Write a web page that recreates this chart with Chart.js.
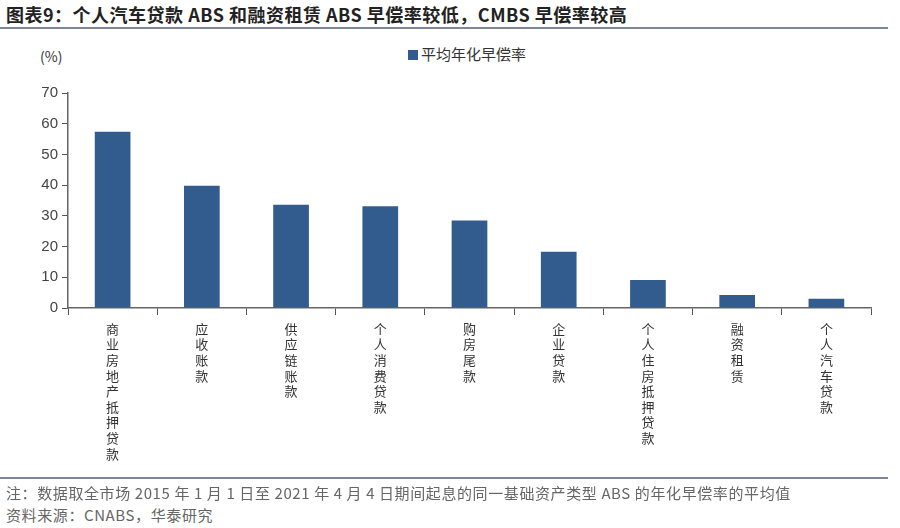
<!DOCTYPE html>
<html>
<head>
<meta charset="utf-8">
<script src="https://cdn.jsdelivr.net/npm/chart.js@4"></script>
<style>
  body { margin: 0; background: #fff; font-family: "Noto Sans CJK SC", sans-serif; }
  #wrap { position: relative; width: 900px; height: 528px; overflow: hidden; }
  .title { position: absolute; left: 6px; top: 1px; font-size: 18px; font-weight: bold; color: #222; letter-spacing: 0.5px; }
  .rule { position: absolute; left: 0; width: 888px; height: 2px; background: #7d8898; }
  .unit { position: absolute; left: 40px; top: 46px; font-size: 14px; color: #333; }
  .legend { position: absolute; left: 408px; top: 43px; font-size: 15px; color: #333; }
  .legend i { display: inline-block; width: 10px; height: 10px; background: #335c8e; margin-right: 3px; }
  .note { position: absolute; left: 6px; font-size: 15px; color: #666; letter-spacing: 0.6px; }
  canvas { position: absolute; left: 0; top: 30px; }
</style>
</head>
<body>
<div id="wrap">
  <div class="title">图表9：个人汽车贷款 ABS 和融资租赁 ABS 早偿率较低，CMBS 早偿率较高</div>
  <div class="rule" style="top:27px"></div>
  <div class="unit">(%)</div>
  <div class="legend"><i></i>平均年化早偿率</div>
  <canvas id="c" width="900" height="448"></canvas>
  <div class="rule" style="top:477px"></div>
  <div class="note" style="top:482px">注：数据取全市场 2015 年 1 月 1 日至 2021 年 4 月 4 日期间起息的同一基础资产类型 ABS 的年化早偿率的平均值</div>
  <div class="note" style="top:504px">资料来源：CNABS，华泰研究</div>
</div>
<script>
var categories = ["商业房地产抵押贷款", "应收账款", "供应链账款", "个人消费贷款", "购房尾款", "企业贷款", "个人住房抵押贷款", "融资租赁", "个人汽车贷款"];
var seriesName = "平均年化早偿率";
var values = [57.4, 39.8, 33.6, 33.1, 28.5, 18.3, 9.1, 4.2, 3.0];
var yTicks = [0, 10, 20, 30, 40, 50, 60, 70];

// vertical labels: one character per line
var labels = categories.map(function (s) { return s.split(""); });

var ctx = document.getElementById("c").getContext("2d");
var chart = new Chart(ctx, {
  type: "bar",
  data: {
    labels: labels,
    datasets: [
      {
        label: seriesName,
        data: values,
        backgroundColor: "#335c8e",
        barPercentage: 0.8,
        categoryPercentage: 0.5,
      },
    ],
  },
  options: {
    responsive: false,
    animation: false,
    layout: { padding: { left: 0, right: 29, top: 63, bottom: 0 } },
    plugins: { legend: { display: false }, tooltip: { enabled: false } },
    scales: {
      x: {
        grid: { offset: true, drawOnChartArea: false, drawTicks: true, tickLength: 7, color: "#555" },
        border: { color: "#666", width: 1.5 },
        ticks: {
          maxRotation: 0,
          autoSkip: false,
          padding: 6,
          color: "#333",
          font: { family: "Noto Sans CJK SC", size: 13, lineHeight: 1.2 },
        },
        afterFit: function (s) { s.height = 170; },
      },
      y: {
        min: 0,
        max: 70,
        afterBuildTicks: function (s) { s.ticks = yTicks.map(function (v) { return { value: v }; }); },
        grid: { drawOnChartArea: false, drawTicks: true, tickLength: 6, color: "#555" },
        border: { color: "#666", width: 1.5 },
        ticks: {
          padding: 4,
          color: "#444",
          font: { family: "Liberation Sans", size: 15 },
        },
        afterFit: function (s) { s.width = 68; },
      },
    },
  },
});
</script>
</body>
</html>
